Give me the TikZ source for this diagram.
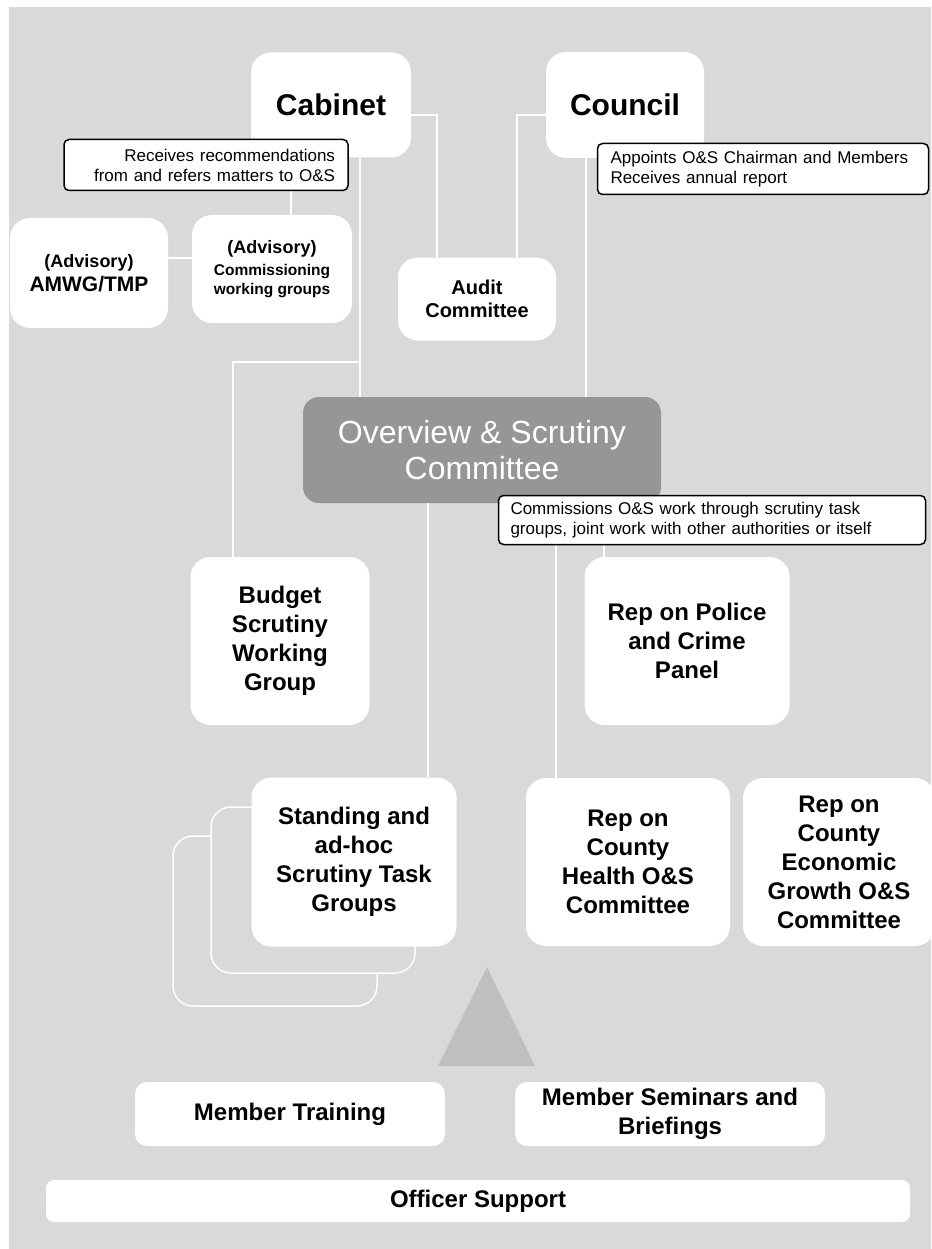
\documentclass[tikz,border=0pt]{standalone}
\usepackage{fontspec}
\setmainfont{Liberation Sans}
\usepackage{tikz}
\usetikzlibrary{
	positioning,
	calc,
	}
\definecolor{bggray}{HTML}{D9D9D9}
\definecolor{osgray}{HTML}{969696}
\definecolor{trigray}{HTML}{BFBFBF}

\begin{document}
\begin{tikzpicture}[x=1pt, y=-1pt,
		box/.style={fill=white, rounded corners=20pt, inner sep=0pt, align=center, font=\bfseries\fontsize{24}{29}\selectfont},
		note/.style={draw=black, fill=white, line width=1.5pt, rounded corners=5pt, inner xsep=13pt, inner ysep=0pt, font=\fontsize{17}{20}\selectfont},
		link/.style={draw=white, line width=2pt},
		stack/.style={draw=white, fill=bggray, line width=1.5pt, rounded corners=20pt}]
		\useasboundingbox (0,0) rectangle (931,1249);
		\fill[bggray] (9,7) rectangle (931,1249);
		% top row
		\node[box, minimum width=160pt, minimum height=105pt, font=\bfseries\fontsize{30}{36}\selectfont] (cab) at (331,105) {Cabinet};
		\node[box, minimum width=158pt, minimum height=106pt, font=\bfseries\fontsize{30}{36}\selectfont] (coun) at (625,105) {Council};
		\node[box, minimum width=158pt, minimum height=110pt, font=\bfseries\fontsize{18}{24}\selectfont] (amwg) at (89,273) {(Advisory)\\{\fontsize{21}{24}\selectfont AMWG/TMP}};
		\node[box, minimum width=160pt, minimum height=108pt, font=\bfseries\fontsize{15.5}{19}\selectfont] (comm) at (272,269) {{\fontsize{18}{19}\selectfont (Advisory)}\\[3pt]Commissioning\\working groups};
		\node[box, minimum width=158pt, minimum height=83pt, font=\bfseries\fontsize{20}{23}\selectfont] (audit) at (477,299) {Audit\\Committee};
		% committee
		\node[box, fill=osgray, text=white, rounded corners=16pt, minimum width=358pt, minimum height=106pt, font=\fontsize{32}{36}\selectfont] (os) at (482,450) {Overview \& Scrutiny\\Committee};
		\node[box, minimum width=179pt, minimum height=168pt] (budget) at (280,641) {Budget\\Scrutiny\\Working\\Group};
		\node[box, minimum width=205pt, minimum height=168pt] (police) at (687,641) {Rep on Police\\and Crime\\Panel};
		% task groups
		\draw[stack] (173,836) rectangle (377,1006);
		\draw[stack] (211,807) rectangle (415,973);
		\node[box, minimum width=205pt, minimum height=169pt] (stand) at (354,862) {Standing and\\ad-hoc\\Scrutiny Task\\Groups};
		\node[box, minimum width=204pt, minimum height=168pt] (health) at (628,862) {Rep on\\County\\Health O\&S\\Committee};
		\node[box, minimum width=192pt, minimum height=168pt] (econ) at (839,862) {Rep on\\County\\Economic\\Growth O\&S\\Committee};
		% support
		\fill[trigray] (487,967) -- (535,1066) -- (438,1066) -- cycle;
		\node[box, rounded corners=12pt, minimum width=310pt, minimum height=64pt] (train) at (290,1114) {Member Training};
		\node[box, rounded corners=12pt, minimum width=310pt, minimum height=64pt] (sem) at (670,1114) {Member Seminars and\\Briefings};
		\node[box, rounded corners=8pt, minimum width=864pt, minimum height=42pt] (officer) at (478,1201) {Officer Support};
		% connectors
		\draw[link] ([yshift=-10pt]cab.east) -| ([xshift=-40pt]audit.north);
		\draw[link] ([yshift=-10pt]coun.west) -| ([xshift=40pt]audit.north);
		\draw[link] ([xshift=29pt]cab.south) -- ([xshift=29pt]cab.south |- os.north);
		\coordinate (split) at (360,362);
		\draw[link] (split) -| ([xshift=-47pt]budget.north);
		\draw[link] ([xshift=-40pt]cab.south) -- ([xshift=-40pt]cab.south |- comm.north);
		\draw[link] ([yshift=15pt]amwg.east) -- ([yshift=15pt]amwg.east -| comm.west);
		\draw[link] ([xshift=-39pt]coun.south) -- ([xshift=-39pt]coun.south |- os.north);
		\draw[link] ([xshift=-54pt]os.south) -- ([xshift=-54pt]os.south |- stand.north);
		\draw[link] ([xshift=74pt]os.south) -- ([xshift=74pt]os.south |- health.north);
		\draw[link] ([xshift=122pt]os.south) -- ([xshift=122pt]os.south |- police.north);
		% notes
		\node[note, text width=258pt, align=right, minimum height=51pt] (recv) at (206,165) {Receives recommendations\\from and refers matters to O\&S};
		\node[note, text width=305pt, align=left, minimum height=51pt] (appt) at (763,169) {Appoints O\&S Chairman and Members\\Receives annual report};
		\node[note, text width=403pt, align=left, minimum height=49pt, inner xsep=12pt] (cmsn) at (712,520) {Commissions O\&S work through scrutiny task\\groups, joint work with other authorities or itself};
	\end{tikzpicture}
\end{document}
